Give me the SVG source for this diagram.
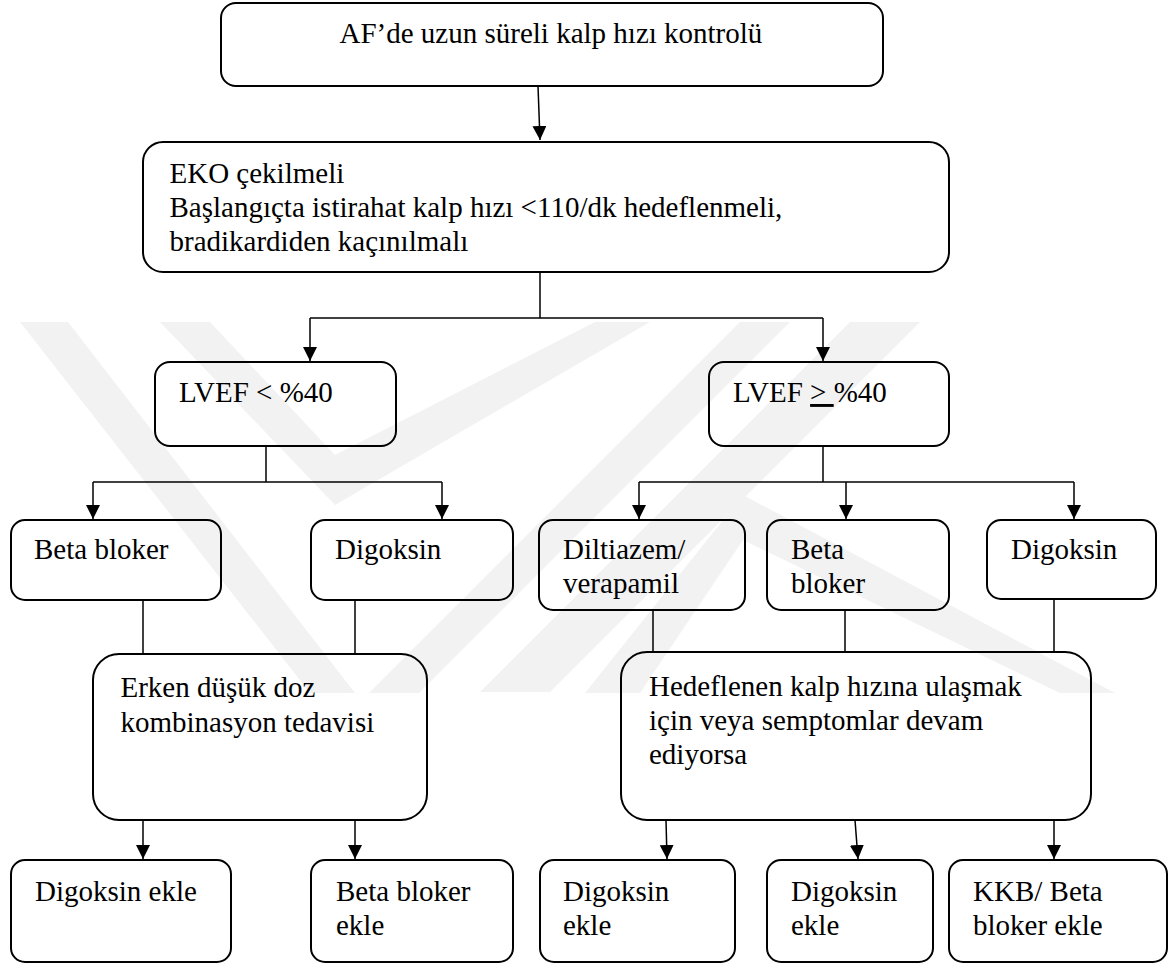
<svg xmlns="http://www.w3.org/2000/svg" width="1171" height="964" viewBox="0 0 1171 964" font-family="'Liberation Serif', 'Times New Roman', Times, serif">
<style>
.box{fill:none;stroke:#000;stroke-width:2}
.t{font-family:'Liberation Serif','Times New Roman',Times,serif;font-size:29px;fill:#000}
.c{fill:none;stroke:#000;stroke-width:1.5}
.wm{fill:#f2f2f2;stroke:none}
</style>
<defs>
<marker id="ah" markerUnits="userSpaceOnUse" markerWidth="14" markerHeight="14" refX="14" refY="7" orient="auto">
<path d="M0,0 L14,7 L0,14 z" fill="#000"/>
</marker>
</defs>
<rect width="1171" height="964" fill="#fff"/>
<g id="watermark">
<polygon class="wm" points="20,322 68,322 355,693 310,693"/>
<polygon class="wm" points="740,322 790,322 419,693 369,693"/>
<polygon class="wm" points="160,322 210,322 335,455 595,322 650,322 335,505"/>
<polygon class="wm" points="850,322 920,322 550,692 480,692"/>
<polygon class="wm" points="743,495 1115,693 1060,693 743,540 640,693 585,693"/>
</g>
<g id="connectors">
<line class="c" x1="538" y1="86" x2="540" y2="140" marker-end="url(#ah)"/>
<polyline class="c" points="540,272 540,318"/>
<polyline class="c" points="310,318 823,318"/>
<line class="c" x1="310" y1="318" x2="310" y2="361" marker-end="url(#ah)"/>
<line class="c" x1="823" y1="318" x2="823" y2="361" marker-end="url(#ah)"/>
<polyline class="c" points="266,446 266,482"/>
<polyline class="c" points="93,482 442,482"/>
<line class="c" x1="93" y1="482" x2="93" y2="519" marker-end="url(#ah)"/>
<line class="c" x1="442" y1="482" x2="442" y2="519" marker-end="url(#ah)"/>
<polyline class="c" points="823,446 823,482"/>
<polyline class="c" points="639,482 1074,482"/>
<line class="c" x1="639" y1="482" x2="639" y2="519" marker-end="url(#ah)"/>
<line class="c" x1="846" y1="482" x2="846" y2="519" marker-end="url(#ah)"/>
<line class="c" x1="1074" y1="482" x2="1074" y2="519" marker-end="url(#ah)"/>
<line class="c" x1="143" y1="600" x2="143" y2="654"/>
<line class="c" x1="355" y1="600" x2="355" y2="654"/>
<line class="c" x1="653" y1="610" x2="653" y2="652"/>
<line class="c" x1="845" y1="610" x2="845" y2="652"/>
<line class="c" x1="1054" y1="599" x2="1054" y2="652"/>
<line class="c" x1="143" y1="820" x2="143" y2="859" marker-end="url(#ah)"/>
<line class="c" x1="355" y1="820" x2="355" y2="859" marker-end="url(#ah)"/>
<line class="c" x1="666" y1="820" x2="667" y2="859" marker-end="url(#ah)"/>
<line class="c" x1="855" y1="820" x2="858" y2="859" marker-end="url(#ah)"/>
<line class="c" x1="1054" y1="820" x2="1054" y2="859" marker-end="url(#ah)"/>
</g>
<g id="n-top">
<rect class="box" x="221" y="3" width="662" height="83" rx="15"/>
<text class="t" x="339.5" y="43">AF’de uzun süreli kalp hızı kontrolü</text>
</g>
<g id="n-eko">
<rect class="box" x="143" y="142" width="806" height="130" rx="20"/>
<text class="t" x="169.5" y="183">EKO çekilmeli</text>
<text class="t" x="169.5" y="217">Başlangıçta istirahat kalp hızı &lt;110/dk hedeflenmeli,</text>
<text class="t" x="169.5" y="251">bradikardiden kaçınılmalı</text>
</g>
<g id="n-lvef-low">
<rect class="box" x="155" y="362" width="241" height="84" rx="15"/>
<text class="t" x="179" y="402">LVEF &lt; %40</text>
</g>
<g id="n-lvef-high">
<rect class="box" x="709" y="362" width="240" height="84" rx="15"/>
<text class="t" x="733" y="402">LVEF <tspan text-decoration="underline">&gt; </tspan>%40</text>
</g>
<g id="n-beta1">
<rect class="box" x="11" y="520" width="210" height="80" rx="14"/>
<text class="t" x="34" y="559">Beta bloker</text>
</g>
<g id="n-dig1">
<rect class="box" x="311" y="520" width="202" height="80" rx="14"/>
<text class="t" x="335" y="559">Digoksin</text>
</g>
<g id="n-dilt">
<rect class="box" x="539" y="520" width="206" height="90" rx="14"/>
<text class="t" x="563" y="559">Diltiazem/</text>
<text class="t" x="563" y="593">verapamil</text>
</g>
<g id="n-beta2">
<rect class="box" x="767" y="520" width="182" height="90" rx="14"/>
<text class="t" x="791" y="559">Beta</text>
<text class="t" x="791" y="593">bloker</text>
</g>
<g id="n-dig2">
<rect class="box" x="987" y="520" width="169" height="79" rx="14"/>
<text class="t" x="1011" y="559">Digoksin</text>
</g>
<g id="n-erken">
<rect class="box" x="93" y="654" width="334" height="166" rx="26"/>
<text class="t" x="120.5" y="697">Erken düşük doz</text>
<text class="t" x="120.5" y="732">kombinasyon tedavisi</text>
</g>
<g id="n-hedef">
<rect class="box" x="621" y="652" width="470" height="168" rx="26"/>
<text class="t" x="649" y="696">Hedeflenen kalp hızına ulaşmak</text>
<text class="t" x="649" y="730">için veya semptomlar devam</text>
<text class="t" x="649" y="764">ediyorsa</text>
</g>
<g id="n-add1">
<rect class="box" x="11" y="860" width="220" height="102" rx="14"/>
<text class="t" x="35" y="901">Digoksin ekle</text>
</g>
<g id="n-add2">
<rect class="box" x="311" y="860" width="202" height="102" rx="14"/>
<text class="t" x="336" y="901">Beta bloker</text>
<text class="t" x="336" y="935">ekle</text>
</g>
<g id="n-add3">
<rect class="box" x="540" y="860" width="195" height="102" rx="14"/>
<text class="t" x="563" y="901">Digoksin</text>
<text class="t" x="563" y="935">ekle</text>
</g>
<g id="n-add4">
<rect class="box" x="767" y="860" width="166" height="102" rx="14"/>
<text class="t" x="791" y="901">Digoksin</text>
<text class="t" x="791" y="935">ekle</text>
</g>
<g id="n-add5">
<rect class="box" x="949" y="860" width="218" height="102" rx="14"/>
<text class="t" x="973" y="901">KKB/ Beta</text>
<text class="t" x="973" y="935">bloker ekle</text>
</g>
</svg>
